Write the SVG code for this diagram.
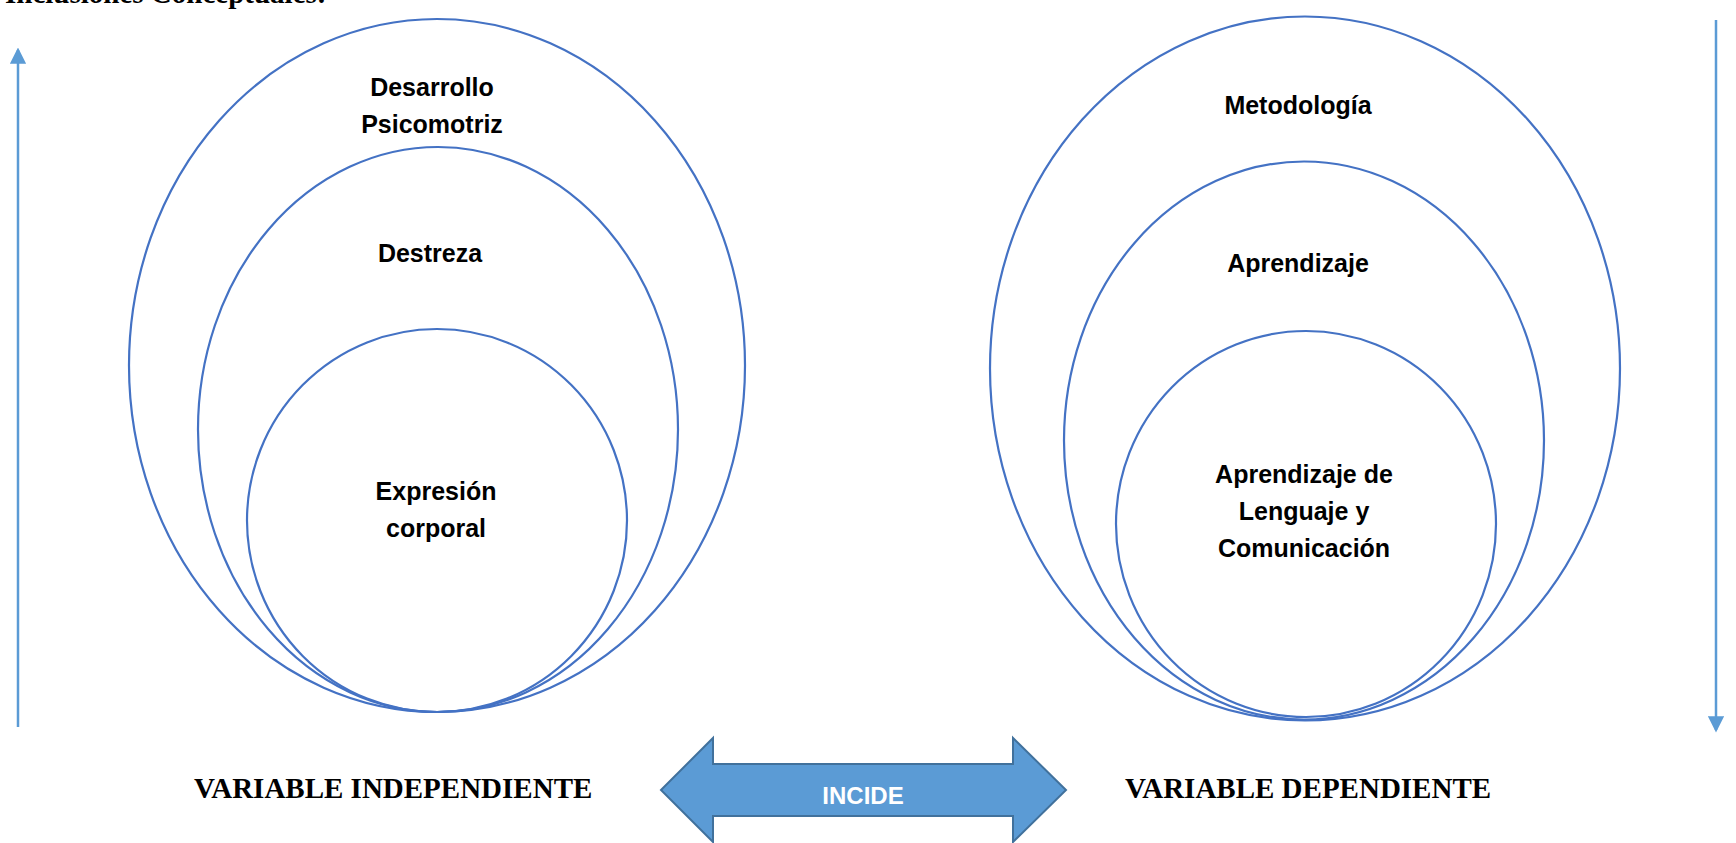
<svg xmlns="http://www.w3.org/2000/svg" width="1736" height="843" viewBox="0 0 1736 843">
<defs>
<style>
.ring{fill:none;stroke:#4472C4;stroke-width:2.2}
.lbl{font-family:"Liberation Sans",Arial,sans-serif;font-weight:bold;font-size:25px;fill:#000;text-anchor:middle}
.var{font-family:"Liberation Serif","Times New Roman",serif;font-weight:bold;font-size:29px;fill:#000}
.axis{stroke:#5B9BD5;stroke-width:2.5;fill:none}
</style>
<marker id="ah" markerWidth="6.5" markerHeight="6.5" refX="5.5" refY="3.25" orient="auto" markerUnits="strokeWidth">
<path d="M0,0 L6.5,3.25 L0,6.5 Z" fill="#5B9BD5"/>
</marker>
</defs>
<rect width="1736" height="843" fill="#fff"/>
<text class="var" x="5" y="3">Inclusiones Conceptuales:</text>
<g id="connectors">
<line class="axis" x1="18" y1="727" x2="18" y2="50" marker-end="url(#ah)"/>
<line class="axis" x1="1716" y1="20" x2="1716" y2="730" marker-end="url(#ah)"/>
</g>
<g id="left-outer"><ellipse class="ring" cx="437" cy="365.5" rx="308" ry="346.5"/><text class="lbl" x="432" y="96">Desarrollo</text><text class="lbl" x="432" y="133">Psicomotriz</text></g>
<g id="left-middle"><ellipse class="ring" cx="438" cy="429.5" rx="240" ry="282.5"/><text class="lbl" x="430" y="262">Destreza</text></g>
<g id="left-inner"><ellipse class="ring" cx="437" cy="520.5" rx="190" ry="191.5"/><text class="lbl" x="436" y="500">Expresión</text><text class="lbl" x="436" y="537">corporal</text></g>
<g id="right-outer"><ellipse class="ring" cx="1305" cy="368.5" rx="315" ry="352"/><text class="lbl" x="1298" y="114">Metodología</text></g>
<g id="right-middle"><ellipse class="ring" cx="1304" cy="440.5" rx="240" ry="279"/><text class="lbl" x="1298" y="272">Aprendizaje</text></g>
<g id="right-inner"><ellipse class="ring" cx="1306" cy="524" rx="190" ry="193"/><text class="lbl" x="1304" y="483">Aprendizaje de</text><text class="lbl" x="1304" y="520">Lenguaje y</text><text class="lbl" x="1304" y="557">Comunicación</text></g>
<g id="var-independiente"><text class="var" x="194" y="798">VARIABLE INDEPENDIENTE</text></g>
<g id="var-dependiente"><text class="var" x="1125" y="798">VARIABLE DEPENDIENTE</text></g>
<g id="incide">
<path d="M661,790 L713,738 L713,764 L1013,764 L1013,738 L1066,790 L1013,842 L1013,816 L713,816 L713,842 Z" fill="#5B9BD5" stroke="#41719C" stroke-width="2"/>
<text x="863" y="804" font-family="Liberation Sans,Arial,sans-serif" font-weight="bold" font-size="24" fill="#fff" text-anchor="middle">INCIDE</text>
</g>
</svg>
